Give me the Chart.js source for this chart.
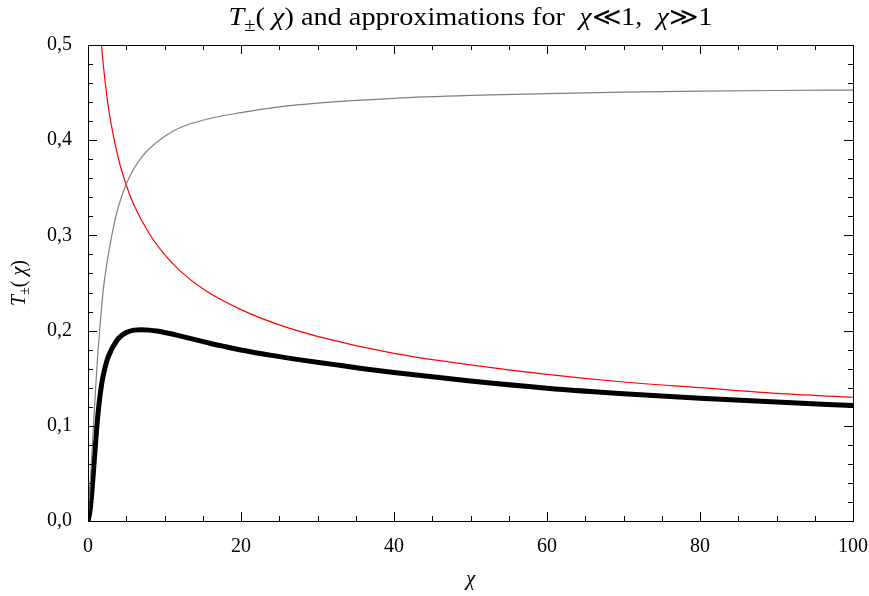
<!DOCTYPE html>
<html>
<head>
<meta charset="utf-8">
<script src="https://cdn.jsdelivr.net/npm/chart.js@4/dist/chart.umd.min.js"></script>
<style>
  html, body { margin: 0; padding: 0; background: #fff; }
  #wrap { width: 869px; height: 596px; }
</style>
</head>
<body>
<div id="wrap"><canvas id="c" width="869" height="596"></canvas></div>
<script>
// T±(χ), exact curve (thick black)
const chiExact = [0, 0.25, 0.5, 0.75, 1, 1.25, 1.5, 1.8, 2, 2.5, 3, 3.5, 4, 5, 6, 7, 8, 9, 10, 12, 14, 16, 18, 20, 24, 28, 32, 36, 40, 50, 60, 70, 80, 90, 100];
const tExact = [0, 0.01, 0.03, 0.056, 0.083, 0.108, 0.127, 0.1446, 0.153, 0.169, 0.179, 0.186, 0.192, 0.198, 0.2005, 0.201, 0.2005, 0.1995, 0.198, 0.1945, 0.1905, 0.1865, 0.183, 0.1797, 0.174, 0.169, 0.1645, 0.160, 0.156, 0.147, 0.1395, 0.1337, 0.129, 0.125, 0.1212];

// small-χ approximation (gray)
const chiSmall = [0, 0.25, 0.5, 0.75, 1, 1.25, 1.5, 2, 2.5, 3, 3.5, 4, 5, 6, 7, 8, 10, 12, 15, 20, 25, 30, 40, 50, 60, 70, 80, 90, 100];
const tSmall = [0, 0.035, 0.07, 0.105, 0.14, 0.172, 0.198, 0.243, 0.272, 0.295, 0.315, 0.331, 0.354, 0.37, 0.382, 0.391, 0.404, 0.413, 0.421, 0.429, 0.435, 0.439, 0.444, 0.447, 0.449, 0.4505, 0.4515, 0.4522, 0.4527];

// large-χ approximation (red)
const chiLarge = [1.6, 2, 2.5, 3, 4, 5, 6, 8, 10, 12, 15, 20, 25, 30, 40, 50, 60, 70, 80, 90, 100];
const tLarge = [0.515, 0.479, 0.444, 0.418, 0.38, 0.353, 0.332, 0.302, 0.28, 0.263, 0.244, 0.222, 0.206, 0.194, 0.176, 0.164, 0.154, 0.146, 0.14, 0.134, 0.13];

const xTicks = [0, 20, 40, 60, 80, 100];
const yTicks = [0, 0.1, 0.2, 0.3, 0.4, 0.5];

const SERIF = '"Liberation Serif", "Times New Roman", serif';

function pts(xs, ys) {
  return xs.map((x, i) => ({ x, y: ys[i] }));
}

// draw a run of [text, style] segments centred on x; style: '' | 'i' | 'sub'
// width, if given, stretches the run horizontally to that many pixels
function drawRich(ctx, segs, x, y, size, width) {
  const fontFor = (s) => (s === 'i' ? 'italic ' : '') + (s === 'sub' ? Math.round(size * 0.7) : size) + 'px ' + SERIF;
  let total = 0;
  segs.forEach(([t, s]) => { ctx.font = fontFor(s); total += ctx.measureText(t).width; });
  const sx = width ? width / total : 1;
  ctx.save();
  ctx.translate(x - (total * sx) / 2, y);
  ctx.scale(sx, 1);
  ctx.textBaseline = 'alphabetic';
  ctx.textAlign = 'left';
  let cx = 0;
  segs.forEach(([t, s]) => {
    ctx.font = fontFor(s);
    ctx.fillText(t, cx, s === 'sub' ? size * 0.22 : 0);
    cx += ctx.measureText(t).width;
  });
  ctx.restore();
}

const framePlugin = {
  id: 'frame',
  afterDraw(chart) {
    const { ctx, chartArea: a, scales } = chart;
    const xs = scales.x, ys = scales.y;
    ctx.save();
    ctx.strokeStyle = '#000';
    ctx.lineWidth = 1;
    ctx.strokeRect(Math.round(a.left) + 0.5, Math.round(a.top) + 0.5, Math.round(a.right - a.left), Math.round(a.bottom - a.top));

    ctx.beginPath();
    // x ticks, every 5, major every 20, bottom and top, pointing inward
    for (let v = 0; v <= 100; v += 5) {
      const px = Math.round(xs.getPixelForValue(v)) + 0.5;
      const len = v % 20 === 0 ? 9 : 5;
      ctx.moveTo(px, a.bottom); ctx.lineTo(px, a.bottom - len);
      ctx.moveTo(px, a.top); ctx.lineTo(px, a.top + len);
    }
    // y ticks, every 0.02, major every 0.1
    for (let k = 0; k <= 25; k++) {
      const py = Math.round(ys.getPixelForValue(k * 0.02)) + 0.5;
      const len = k % 5 === 0 ? 9 : 5;
      ctx.moveTo(a.left, py); ctx.lineTo(a.left + len, py);
      ctx.moveTo(a.right, py); ctx.lineTo(a.right - len, py);
    }
    ctx.stroke();

    ctx.fillStyle = '#000';
    const midX = (a.left + a.right) / 2;
    // title
    drawRich(ctx, [['T', 'i'], ['±', 'sub'], ['( ', ''], ['χ', 'i'], [') and approximations for  ', ''], ['χ', 'i'], ['≪1,  ', ''], ['χ', 'i'], ['≫1', '']], midX, 25, 25, 484);
    // x axis title
    drawRich(ctx, [['χ', 'i']], midX, 585, 21);
    // y axis title
    ctx.translate(25, (a.top + a.bottom) / 2);
    ctx.rotate(-Math.PI / 2);
    drawRich(ctx, [['T', 'i'], ['±', 'sub'], ['( ', ''], ['χ', 'i'], [')', '']], 0, 0, 20);
    ctx.restore();
  }
};

new Chart(document.getElementById('c'), {
  type: 'line',
  data: {
    datasets: [
      { label: 'small', data: pts(chiSmall, tSmall), borderColor: '#808080', borderWidth: 1.2, pointRadius: 0, cubicInterpolationMode: 'monotone' },
      { label: 'large', data: pts(chiLarge, tLarge), borderColor: '#ff0000', borderWidth: 1.2, pointRadius: 0, cubicInterpolationMode: 'monotone' },
      { label: 'exact', data: pts(chiExact, tExact), borderColor: '#000000', borderWidth: 5, pointRadius: 0, cubicInterpolationMode: 'monotone' },
    ],
  },
  options: {
    responsive: false,
    animation: false,
    layout: { padding: { top: 45, right: 16, left: 0, bottom: 0 } },
    plugins: { legend: { display: false }, title: { display: false }, tooltip: { enabled: false } },
    scales: {
      x: {
        type: 'linear', min: 0, max: 100,
        grid: { display: false },
        border: { display: false },
        afterFit(s) { s.height = 75; s.paddingLeft = 0; s.paddingRight = 0; },
        afterBuildTicks(s) { s.ticks = xTicks.map((v) => ({ value: v })); },
        ticks: { color: '#000', padding: 6, maxRotation: 0, font: { family: SERIF, size: 20 } },
      },
      y: {
        type: 'linear', min: 0, max: 0.5,
        grid: { display: false },
        border: { display: false },
        afterFit(s) { s.width = 88; s.paddingTop = 0; s.paddingBottom = 0; },
        afterBuildTicks(s) { s.ticks = yTicks.map((v) => ({ value: v })); },
        ticks: { color: '#000', padding: 8, font: { family: SERIF, size: 20 }, callback: (v) => v.toFixed(1).replace('.', ',') },
      },
    },
  },
  plugins: [framePlugin],
});
</script>
</body>
</html>
